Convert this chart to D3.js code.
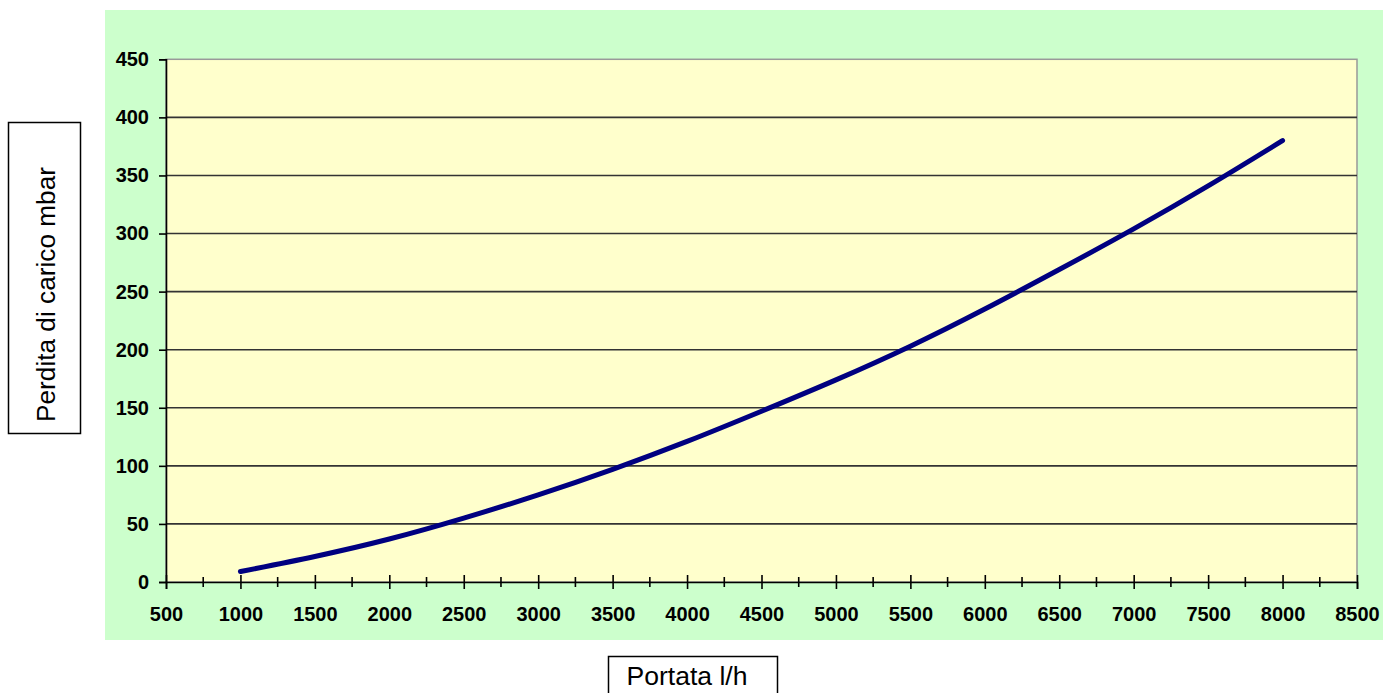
<!DOCTYPE html>
<html><head><meta charset="utf-8">
<script src="https://cdn.jsdelivr.net/npm/d3@7"></script>
<style>body{margin:0;background:#fff}svg{display:block}</style>
</head><body>
<svg id="c" width="1384" height="693"></svg>
<script>
const flow = [1000,1500,2000,2500,3000,3500,4000,4500,5000,5500,6000,6500,7000,7500,8000];
const loss = [9,22,37,55,75,97,121,147,174,203,235,269,304,341,380];
const xTicks = [500,1000,1500,2000,2500,3000,3500,4000,4500,5000,5500,6000,6500,7000,7500,8000,8500];
const xMinor = [750,1250,1750,2250,2750,3250,3750,4250,4750,5250,5750,6250,6750,7250,7750,8250];
const yTicks = [0,50,100,150,200,250,300,350,400,450];
const xTitle = "Portata l/h";
const yTitle = "Perdita di carico mbar";

const svg = d3.select("#c");
const font = "'Liberation Sans', Arial, sans-serif";
const P = {l:166, r:1357, t:59.3, b:582};
const x = d3.scaleLinear().domain([500,8500]).range([P.l,P.r]);
const y = d3.scaleLinear().domain([0,450]).range([P.b,P.t]);

svg.append("rect").attr("x",105).attr("y",10).attr("width",1278).attr("height",630).attr("fill","#CCFFCC");
svg.append("rect").attr("x",P.l).attr("y",P.t).attr("width",P.r-P.l).attr("height",P.b-P.t)
  .attr("fill","#FFFFCC").attr("stroke","#999").attr("stroke-width",1.5);

// grid
svg.append("g").selectAll("line").data(yTicks.filter(d=>d>0&&d<450)).join("line")
  .attr("x1",P.l).attr("x2",P.r).attr("y1",d=>y(d)).attr("y2",d=>y(d))
  .attr("stroke","#333").attr("stroke-width",1.6);

// y axis
const ya = svg.append("g").attr("transform",`translate(${P.l},0)`)
  .call(d3.axisLeft(y).tickValues(yTicks).tickSize(7).tickPadding(10).tickFormat(d3.format("d")));
ya.select(".domain").attr("stroke","#000").attr("stroke-width",1.6);
ya.selectAll(".tick line").attr("stroke","#000").attr("stroke-width",1.6);
ya.selectAll("text").attr("font-family",font).attr("font-weight","bold").attr("font-size",20).attr("fill","#000");

// x axis
const xa = svg.append("g").attr("transform",`translate(0,${P.b})`)
  .call(d3.axisBottom(x).tickValues(xTicks).tickSize(7).tickPadding(18).tickFormat(d3.format("d")));
xa.select(".domain").attr("stroke","#000").attr("stroke-width",1.6);
xa.selectAll(".tick line").attr("y1",-7).attr("stroke","#000").attr("stroke-width",1.6);
xa.selectAll("text").attr("font-family",font).attr("font-weight","bold").attr("font-size",20).attr("fill","#000");
svg.append("g").selectAll("line").data(xMinor).join("line")
  .attr("x1",d=>x(d)).attr("x2",d=>x(d)).attr("y1",P.b-5).attr("y2",P.b+5)
  .attr("stroke","#000").attr("stroke-width",1.6);

// curve
svg.append("path").datum(flow.map((f,i)=>[f,loss[i]]))
  .attr("d", d3.line().x(d=>x(d[0])).y(d=>y(d[1])).curve(d3.curveNatural))
  .attr("fill","none").attr("stroke","#000080").attr("stroke-width",5).attr("stroke-linecap","round");

// titles
svg.append("rect").attr("x",8.5).attr("y",122.5).attr("width",72).attr("height",311)
  .attr("fill","#fff").attr("stroke","#000").attr("stroke-width",1.5);
svg.append("text").attr("transform","translate(55,294.5) rotate(-90)").attr("text-anchor","middle")
  .attr("font-family",font).attr("font-size",25).attr("textLength",255).attr("lengthAdjust","spacingAndGlyphs")
  .text(yTitle);
svg.append("rect").attr("x",608.5).attr("y",656.5).attr("width",169).attr("height",50)
  .attr("fill","#fff").attr("stroke","#000").attr("stroke-width",1.5);
svg.append("text").attr("x",687).attr("y",685).attr("text-anchor","middle")
  .attr("font-family",font).attr("font-size",25).attr("textLength",121).attr("lengthAdjust","spacingAndGlyphs")
  .text(xTitle);
</script>
</body></html>
